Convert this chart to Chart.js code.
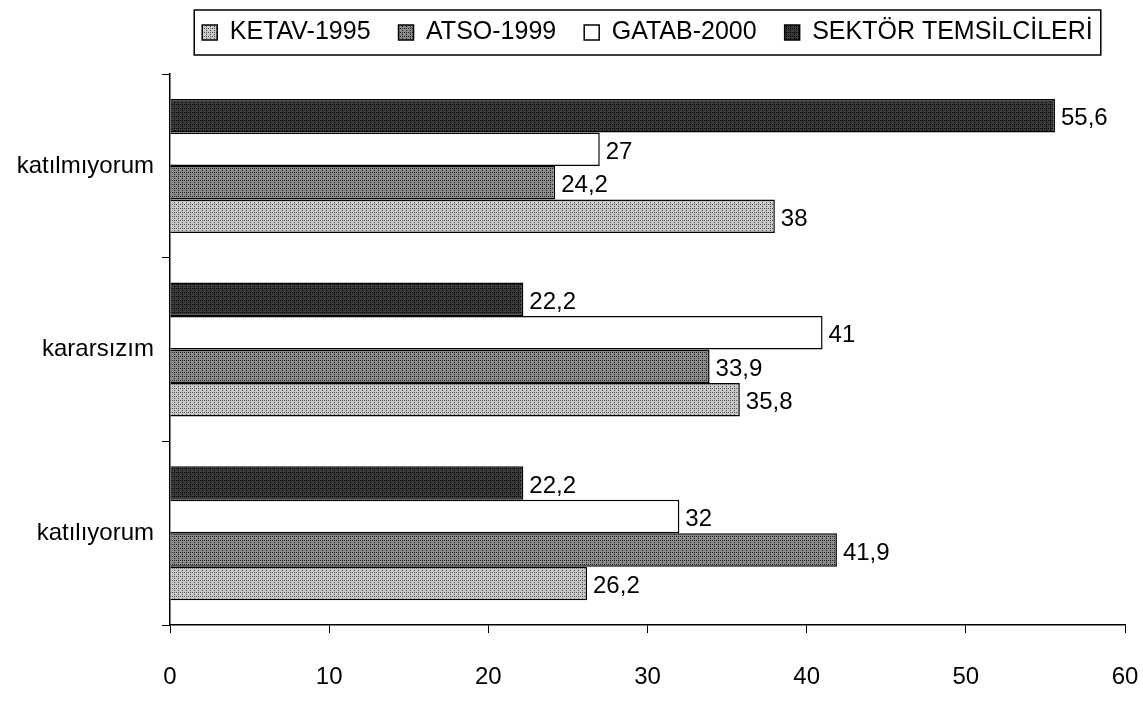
<!DOCTYPE html>
<html>
<head>
<meta charset="utf-8">
<script src="https://cdn.jsdelivr.net/npm/chart.js@4.4.0/dist/chart.umd.min.js"></script>
<style>
  html, body { margin: 0; padding: 0; background: #fff; }
  #wrap { width: 1143px; height: 715px; position: relative; }
</style>
</head>
<body>
<div id="wrap"><canvas id="answerChart"></canvas></div>
<script>
const categories = ['katılmıyorum', 'kararsızım', 'katılıyorum'];
const ketav = [38, 35.8, 26.2];
const atso = [24.2, 33.9, 41.9];
const gatab = [27, 41, 32];
const sektor = [55.6, 22.2, 22.2];
const xTicks = [0, 10, 20, 30, 40, 50, 60];

const FONT = '"Liberation Sans", Arial, sans-serif';

function makePattern(bg, dot) {
    const c = document.createElement('canvas');
    c.width = 4;
    c.height = 4;
    const p = c.getContext('2d');
    p.fillStyle = bg;
    p.fillRect(0, 0, 4, 4);
    p.fillStyle = dot;
    p.fillRect(0, 0, 1, 1);
    p.fillRect(2, 2, 1, 1);
    p.fillRect(2, 0, 1, 1);
    return p.createPattern(c, 'repeat');
}

const ctx = document.getElementById('answerChart').getContext('2d');

const lightFill = makePattern('#c8c8c8', '#555');
const midFill = makePattern('#8a8a8a', '#222');
const darkFill = makePattern('#3a3a3a', '#000');

const valueLabels = {
    id: 'valueLabels',
    afterDatasetsDraw(chart) {
        const c = chart.ctx;
        c.save();
        c.font = '24px ' + FONT;
        c.fillStyle = '#000';
        c.textBaseline = 'middle';
        chart.data.datasets.forEach((ds, i) => {
            chart.getDatasetMeta(i).data.forEach((bar, j) => {
                const txt = String(ds.data[j]).replace('.', ',');
                c.fillText(txt, bar.x + 6, bar.y + 3);
            });
        });
        c.restore();
    }
};

const legendBorder = {
    id: 'legendBorder',
    afterDraw(chart) {
        const boxes = chart.legend.legendHitBoxes;
        if (!boxes || !boxes.length) return;
        let x0 = Infinity, x1 = -Infinity, y0 = Infinity, y1 = -Infinity;
        boxes.forEach(b => {
            x0 = Math.min(x0, b.left);
            x1 = Math.max(x1, b.left + b.width);
            y0 = Math.min(y0, b.top);
            y1 = Math.max(y1, b.top + b.height);
        });
        const c = chart.ctx;
        c.save();
        c.strokeStyle = '#000';
        c.lineWidth = 1.5;
        c.strokeRect(x0 - 8, y0 - 10, x1 - x0 + 16, y1 - y0 + 20);
        c.restore();
    }
};

new Chart(ctx, {
    type: 'bar',
    data: {
        labels: categories,
        datasets: [
            { label: 'SEKTÖR TEMSİLCİLERİ', data: sektor, backgroundColor: darkFill },
            { label: 'GATAB-2000', data: gatab, backgroundColor: '#fff' },
            { label: 'ATSO-1999', data: atso, backgroundColor: midFill },
            { label: 'KETAV-1995', data: ketav, backgroundColor: lightFill }
        ].map(d => Object.assign(d, {
            borderColor: '#000',
            borderWidth: 1.5,
            barPercentage: 1,
            categoryPercentage: 0.73
        }))
    },
    options: {
        indexAxis: 'y',
        responsive: true,
        maintainAspectRatio: false,
        animation: false,
        layout: {
            padding: { left: 10, right: 18, top: -8, bottom: 10 }
        },
        plugins: {
            legend: {
                display: true,
                position: 'top',
                fullSize: false,
                reverse: true,
                labels: {
                    color: '#000',
                    font: { size: 25, family: FONT },
                    boxWidth: 15,
                    boxHeight: 15,
                    padding: 28,
                    useBorderRadius: false
                }
            },
            title: {
                display: true,
                text: '',
                position: 'top',
                fullSize: false,
                weight: 500,
                padding: 0,
                font: { size: 16 }
            },
            tooltip: { enabled: false }
        },
        scales: {
            x: {
                min: 0,
                max: 60,
                afterBuildTicks: axis => {
                    axis.ticks = xTicks.map(v => ({ value: v }));
                },
                afterFit: axis => {
                    axis.height = 80;
                    axis.paddingRight = 0;
                    axis.paddingLeft = 0;
                },
                grid: { display: true, drawOnChartArea: false, drawTicks: true, tickLength: 8, color: '#000' },
                border: { display: true, color: '#000', width: 1.5 },
                ticks: {
                    color: '#000',
                    padding: 30,
                    font: { size: 24, family: FONT }
                }
            },
            y: {
                afterFit: axis => { axis.width = 160; },
                grid: { display: true, drawOnChartArea: false, drawTicks: true, tickLength: 8, color: '#000', offset: true },
                border: { display: true, color: '#000', width: 1.5 },
                ticks: {
                    color: '#000',
                    padding: 8,
                    font: { size: 24, family: FONT }
                }
            }
        }
    },
    plugins: [valueLabels, legendBorder]
});
</script>
</body>
</html>
